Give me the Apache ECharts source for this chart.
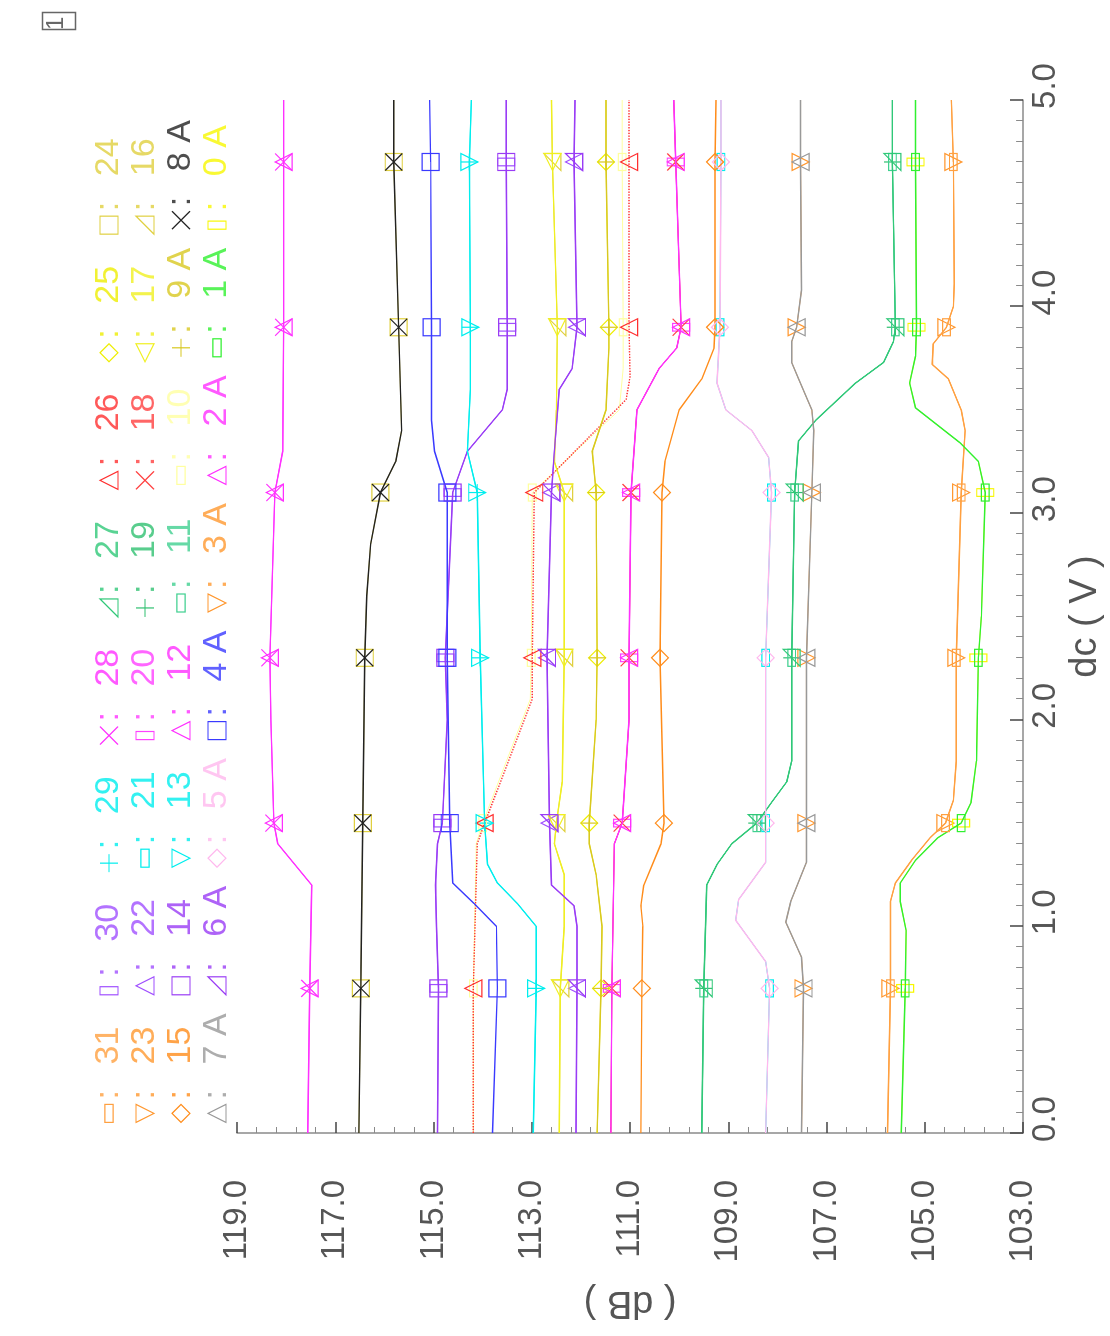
<!DOCTYPE html>
<html><head><meta charset="utf-8">
<script src="https://cdn.jsdelivr.net/npm/echarts@6/dist/echarts.min.js"></script>
<style>
html,body{margin:0;padding:0;width:1110px;height:1336px;overflow:hidden;background:#fff;}
#chart{position:absolute;left:0;top:0;width:1336px;height:1110px;transform-origin:0 0;transform:translateY(1336px) rotate(-90deg);}
</style></head><body><div id="chart"></div>
<script>
// ---------- data: [dc (V), level (dB)] ----------
const DC_MARKS = [0.7, 1.5, 2.3, 3.1, 3.9, 4.7];
const dbTicks = [103, 105, 107, 109, 111, 113, 115, 117, 119];
const dcTicks = [0, 1, 2, 3, 4, 5];

const magentaTop = [[0,117.56],[0.7,117.52],[1.2,117.48],[1.4,118.17],[1.5,118.25],[2.0,118.31],[2.3,118.33],[3.1,118.23],[3.3,118.07],[3.9,118.05],[4.7,118.05],[5.0,118.05]];
const blackLine = [[0,116.52],[0.7,116.48],[1.5,116.44],[2.3,116.40],[2.6,116.36],[2.85,116.28],[3.1,116.08],[3.25,115.77],[3.4,115.65],[3.9,115.71],[4.7,115.81],[5.0,115.81]];
const blueLine = [[0,113.80],[0.7,113.70],[1.0,113.72],[1.11,114.17],[1.21,114.61],[1.5,114.67],[2.3,114.72],[3.1,114.72],[3.3,114.98],[3.45,115.04],[3.9,115.04],[4.7,115.06],[5.0,115.08]];
const purpleLine = [[0,114.92],[0.7,114.90],[1.0,114.94],[1.2,114.96],[1.4,114.92],[1.5,114.82],[2.0,114.72],[2.3,114.76],[3.1,114.61],[3.3,114.31],[3.5,113.60],[3.6,113.50],[3.9,113.50],[4.7,113.52],[5.0,113.52]];
const cyanLine = [[0,112.97],[0.7,112.91],[1.0,112.91],[1.11,113.29],[1.21,113.70],[1.3,113.90],[1.5,113.96],[2.3,114.05],[3.1,114.11],[3.3,114.31],[3.6,114.25],[3.9,114.25],[4.7,114.27],[5.0,114.23]];
const redDotted = [[0,114.19],[0.7,114.19],[1.4,114.11],[1.5,113.96],[2.1,112.99],[2.3,112.99],[3.1,112.95],[3.55,111.08],[3.66,111.00],[3.9,111.02],[4.7,111.02],[5.0,111.02]];
const paleLine = [[0,114.19],[0.7,114.19],[1.4,114.13],[1.5,114.00],[2.1,113.03],[2.3,113.01],[3.1,112.99],[3.5,111.22],[3.7,111.14],[3.9,111.14],[4.7,111.16],[5.0,111.16]];
const yellowLine = [[0,112.44],[0.7,112.42],[1.0,112.34],[1.25,112.34],[1.4,112.54],[1.5,112.50],[1.7,112.38],[2.3,112.34],[3.1,112.34],[3.25,112.54],[3.5,112.50],[3.9,112.48],[4.7,112.58],[5.0,112.60]];
const purple2Line = [[0,112.10],[0.7,112.08],[1.0,112.08],[1.1,112.14],[1.2,112.60],[1.5,112.64],[2.3,112.69],[3.1,112.60],[3.3,112.54],[3.6,112.44],[3.7,112.18],[3.9,112.08],[4.7,112.14],[5.0,112.12]];
const oliveLine = [[0,111.67],[0.7,111.59],[1.0,111.57],[1.25,111.69],[1.4,111.83],[1.5,111.83],[2.0,111.69],[2.3,111.67],[3.1,111.69],[3.3,111.77],[3.5,111.49],[3.8,111.43],[3.9,111.43],[4.7,111.49],[5.0,111.49]];
const magenta2Line = [[0,111.39],[0.7,111.37],[1.4,111.32],[1.5,111.16],[2.0,111.02],[2.3,111.02],[3.1,110.98],[3.5,110.86],[3.7,110.41],[3.8,110.05],[3.9,109.96],[4.7,110.07],[5.0,110.11]];
const orange1Line = [[0,110.78],[0.7,110.76],[1.0,110.74],[1.1,110.78],[1.2,110.72],[1.4,110.37],[1.5,110.31],[2.3,110.39],[3.1,110.35],[3.25,110.29],[3.5,110.00],[3.65,109.54],[3.8,109.29],[3.9,109.27],[4.7,109.27],[5.0,109.25]];
const green1Line = [[0,109.54],[0.7,109.50],[1.2,109.44],[1.3,109.23],[1.4,108.93],[1.5,108.42],[1.6,108.12],[1.7,107.81],[1.8,107.71],[2.3,107.71],[3.1,107.65],[3.35,107.57],[3.45,107.22],[3.63,106.41],[3.73,105.84],[3.83,105.64],[3.9,105.60],[4.7,105.66],[5.0,105.66]];
const pinkLine = [[0,108.24],[0.7,108.16],[0.83,108.24],[1.03,108.85],[1.13,108.79],[1.31,108.24],[1.5,108.24],[2.3,108.24],[3.1,108.12],[3.27,108.18],[3.4,108.52],[3.5,109.05],[3.63,109.23],[3.9,109.17],[4.7,109.15],[5.0,109.15]];
const grayLine = [[0,107.51],[0.7,107.47],[0.85,107.51],[1.02,107.83],[1.12,107.73],[1.31,107.41],[1.5,107.41],[2.3,107.41],[3.1,107.30],[3.4,107.26],[3.5,107.30],[3.65,107.57],[3.73,107.71],[3.83,107.71],[3.9,107.61],[4.08,107.51],[4.7,107.53],[5.0,107.53]];
const orange2Line = [[0,105.76],[0.7,105.70],[1.12,105.70],[1.21,105.60],[1.32,105.27],[1.43,104.89],[1.5,104.58],[1.61,104.42],[1.8,104.36],[2.3,104.36],[3.1,104.26],[3.4,104.18],[3.5,104.26],[3.65,104.52],[3.72,104.85],[3.82,104.83],[3.9,104.56],[4.0,104.42],[4.11,104.40],[4.7,104.42],[5.0,104.46]];
const green2Line = [[0,105.48],[0.7,105.40],[0.98,105.38],[1.12,105.50],[1.21,105.50],[1.32,105.19],[1.43,104.73],[1.5,104.26],[1.6,104.06],[1.8,103.95],[2.3,103.91],[2.5,103.85],[3.1,103.77],[3.25,103.91],[3.34,104.28],[3.51,105.19],[3.63,105.31],[3.76,105.19],[3.9,105.17],[4.7,105.19],[5.0,105.19]];

const LINES = {magentaTop, blackLine, blueLine, purpleLine, cyanLine, redDotted, paleLine, yellowLine,
  purple2Line, oliveLine, magenta2Line, orange1Line, green1Line, pinkLine, grayLine, orange2Line, green2Line};

// channel names (legend order) and which trace each follows
const channelNames = ['31','30','29','28','27','26','25','24','23','22','21','20','19','18','17','16',
  '15','14','13','12','11','10','9 A','8 A','7 A','6 A','5 A','4 A','3 A','2 A','1 A','0 A'];
const channelLine = ['orange2Line','purpleLine','cyanLine','magentaTop','green1Line','redDotted','oliveLine','blackLine',
  'grayLine','purple2Line','pinkLine','magenta2Line','green1Line','magenta2Line','yellowLine','yellowLine',
  'orange1Line','purpleLine','cyanLine','magenta2Line','green1Line','paleLine','oliveLine','blackLine',
  'grayLine','purple2Line','pinkLine','blueLine','orange2Line','magentaTop','green2Line','green2Line'];

// ---------- styles ----------
const channelMarker = ['rectWide','rectTall','plus','cross','rtri','triUp','diamond','square',
  'triDown','triUp','rectWide','rectTall','plus','cross','triLeft','rtri',
  'diamond','square','triDown','triUp','rectWide','rectWide','plus','cross',
  'triUp','rtri','diamond','square','triDown','triUp','rectWide','rectTall'];
const channelColor = ['#ffa040','#a050ff','#00eeee','#ff30ff','#30c878','#ff3030','#eeee00','#e0d040',
  '#ff9830','#a050ff','#00eeee','#ff40ff','#30c070','#ff4040','#f0f020','#e0d040',
  '#ff8c1a','#9a3cf5','#00eeee','#ff30ff','#40d090','#ffffa0','#d8c820','#222222',
  '#999999','#9a3cf5','#ffb8ee','#3a3aff','#ff9830','#ff30ff','#30f030','#f8f800'];
const topChannels = ['8 A','5 A','7 A','1 A','17','9 A','12','26','4 A','14','13','15','27','31','28','6 A'];

const SYM = {
  rectWide: 'path://M0,0H20V9H0Z',
  rectTall: 'path://M0,0H9V20H0Z',
  square: 'path://M0,0H20V20H0Z',
  plus: 'path://M10,0V20M0,10H20',
  cross: 'path://M0,0L20,20M20,0L0,20',
  diamond: 'path://M10,0L20,10L10,20L0,10Z',
  triUp: 'path://M10,0L20,20L0,20Z',
  triDown: 'path://M0,0L20,0L10,20Z',
  triLeft: 'path://M0,10L20,0L20,20Z',
  rtri: 'path://M20,0L20,20L0,20Z'
};

const FONT = "'Liberation Sans', 'DejaVu Sans', sans-serif";
const AXIS_COLOR = '#8a8a8a';
const TEXT_COLOR = '#555';

const minorDb = [];
for (let k = 0; k <= 40; k++) { const v = Math.round((103 + 0.4 * k) * 10) / 10; if (dbTicks.indexOf(v) < 0) minorDb.push(v); }

const series = channelNames.map((name, i) => {
  const col = channelColor[i];
  const sym = SYM[channelMarker[i]];
  const isTop = topChannels.indexOf(name) >= 0;
  return {
    name: name, type: 'line', data: LINES[channelLine[i]],
    symbol: (v) => (DC_MARKS.indexOf(v[0]) >= 0 ? sym : 'none'),
    symbolSize: 17, symbolKeepAspect: true,
    lineStyle: {color: col, width: isTop ? 1.4 : 1, type: name === '26' ? 'dotted' : 'solid'},
    itemStyle: {color: 'rgba(255,255,255,0)', borderColor: col, borderWidth: 1.2},
    z: isTop ? 3 : 2,
    silent: true, animation: false, emphasis: {disabled: true}
  };
});

const legendItem = (name) => {
  const i = channelNames.indexOf(name);
  return {
    name: name, icon: SYM[channelMarker[i]],
    itemStyle: {color: 'rgba(255,255,255,0)', borderColor: channelColor[i], borderWidth: 1.2},
    textStyle: {color: channelColor[i], opacity: 0.8}
  };
};
const legends = [0, 1, 2, 3].map((r) => ({
  data: channelNames.slice(r * 8, r * 8 + 8).map(legendItem),
  left: 208, top: 87 + r * 36, orient: 'horizontal',
  itemWidth: 18, itemHeight: 18, itemGap: 10, selectedMode: false, symbolKeepAspect: true,
  formatter: (n) => '{c|:}{n|' + n + '}',
  textStyle: {fontSize: 34, lineHeight: 26, fontFamily: FONT,
    rich: {c: {width: 35, fontSize: 34, lineHeight: 26, fontFamily: FONT},
           n: {width: 59, fontSize: 34, lineHeight: 26, fontFamily: FONT}}}
}));

const chart = echarts.init(document.getElementById('chart'), null, {renderer: 'canvas'});
chart.setOption({
  backgroundColor: '#fff',
  animation: false,
  grid: {left: 203, right: 100, top: 237, bottom: 85, containLabel: false},
  legend: legends,
  xAxis: {
    type: 'value', min: 0, max: 5, interval: 1, position: 'bottom',
    name: 'dc ( V )', nameLocation: 'middle', nameGap: 36,
    nameTextStyle: {fontSize: 38, color: TEXT_COLOR, fontFamily: FONT, verticalAlign: 'top'},
    axisLine: {show: true, lineStyle: {color: AXIS_COLOR, width: 1.5}},
    axisTick: {show: true, inside: true, length: 13, lineStyle: {color: '#444', width: 1.5}},
    minorTick: {show: true, splitNumber: 10, length: 7, lineStyle: {color: AXIS_COLOR}},
    splitLine: {show: false}, minorSplitLine: {show: false},
    axisLabel: {formatter: (v) => v.toFixed(1), fontSize: 33, color: TEXT_COLOR, fontFamily: FONT,
      margin: 6, padding: [0, 0, 0, 28], showMinLabel: true, showMaxLabel: true}
  },
  yAxis: [{
    type: 'value', min: 103, max: 119, position: 'left',
    name: '( dB )', nameLocation: 'middle', nameGap: 150, nameRotate: 90,
    nameTextStyle: {fontSize: 38, color: TEXT_COLOR, fontFamily: FONT},
    axisLine: {show: true, lineStyle: {color: AXIS_COLOR, width: 1.5}},
    axisTick: {show: true, inside: true, length: 11, customValues: dbTicks, lineStyle: {color: '#444', width: 1.5}},
    splitLine: {show: false},
    axisLabel: {customValues: dbTicks, formatter: (v) => Number(v).toFixed(1), fontSize: 33, color: TEXT_COLOR,
      fontFamily: FONT, margin: 47, padding: [0, 0, 22, 0]}
  }, {
    type: 'value', min: 103, max: 119, position: 'left',
    axisLine: {show: false},
    axisTick: {show: true, inside: true, length: 6, customValues: minorDb, lineStyle: {color: AXIS_COLOR}},
    splitLine: {show: false},
    axisLabel: {show: false}
  }],
  graphic: [
    {type: 'rect', left: 1304, top: 40, shape: {width: 17, height: 33}, style: {fill: 'none', stroke: '#666', lineWidth: 1.5}},
    {type: 'text', left: 1306, top: 44, style: {text: '1', fontSize: 24, fill: '#666', fontFamily: FONT}}
  ],
  series: series
});
</script></body></html>
